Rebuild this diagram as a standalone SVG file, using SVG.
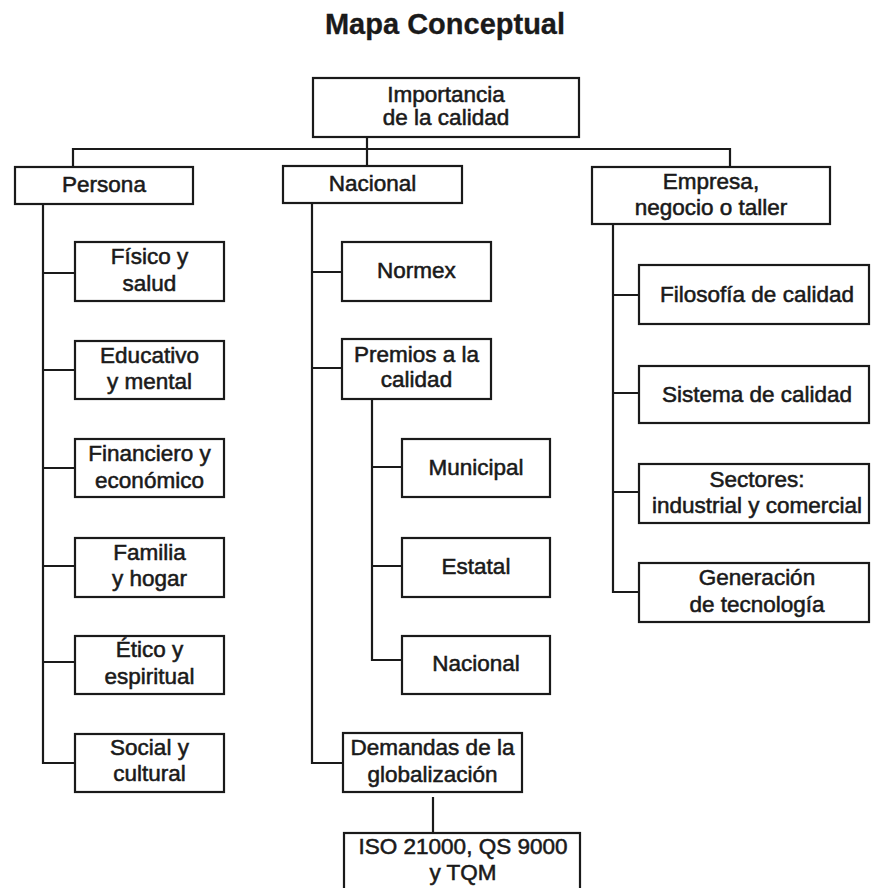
<svg xmlns="http://www.w3.org/2000/svg" width="871" height="888" viewBox="0 0 871 888">
<style>
  .box { fill: #ffffff; stroke: #1a1a1a; stroke-width: 2.2; }
  .conn { fill: none; stroke: #1a1a1a; stroke-width: 2.2; }
  text { font-family: "Liberation Sans", Arial, sans-serif; font-size: 22.5px; fill: #1a1a1a; stroke: #1a1a1a; stroke-width: 0.55; text-anchor: middle; }
  .title { font-size: 29px; font-weight: bold; stroke-width: 0.3; }
</style>
<rect width="871" height="888" fill="#ffffff"/>
<text class="title" x="445" y="34">Mapa Conceptual</text>

<g id="connectors">
  <path class="conn" d="M367,137 V166"/>
  <path class="conn" d="M73,167 V149 H730 V167"/>
  <!-- Persona -->
  <path class="conn" d="M43,204 V763 H75"/>
  <path class="conn" d="M43,273 H75 M43,370 H75 M43,468 H75 M43,566 H75 M43,662 H75"/>
  <!-- Nacional -->
  <path class="conn" d="M312,203 V763 H343"/>
  <path class="conn" d="M312,272 H342 M312,368 H342"/>
  <!-- Premios -->
  <path class="conn" d="M372,399 V660 H402"/>
  <path class="conn" d="M372,467 H402 M372,566 H402"/>
  <!-- Demandas to ISO -->
  <path class="conn" d="M433,797 V833"/>
  <!-- Empresa -->
  <path class="conn" d="M613,224 V592 H639"/>
  <path class="conn" d="M613,295 H639 M613,393 H639 M613,492 H639"/>
</g>

<g id="n-importancia">
  <rect class="box" x="313" y="78" width="266" height="59"/>
  <text x="446" y="102">Importancia</text>
  <text x="446" y="125">de la calidad</text>
</g>
<g id="n-persona">
  <rect class="box" x="15" y="167" width="178" height="37"/>
  <text x="104" y="192">Persona</text>
</g>
<g id="n-nacional">
  <rect class="box" x="283" y="166" width="179" height="37"/>
  <text x="372.5" y="191">Nacional</text>
</g>
<g id="n-empresa">
  <rect class="box" x="592" y="167" width="238" height="57"/>
  <text x="711" y="189">Empresa,</text>
  <text x="711" y="215">negocio o taller</text>
</g>

<g id="n-fisico">
  <rect class="box" x="75" y="242" width="149" height="59"/>
  <text x="149.5" y="264">Físico y</text>
  <text x="149.5" y="291">salud</text>
</g>
<g id="n-educativo">
  <rect class="box" x="75" y="341" width="149" height="58"/>
  <text x="149.5" y="363">Educativo</text>
  <text x="149.5" y="389">y mental</text>
</g>
<g id="n-financiero">
  <rect class="box" x="75" y="439" width="149" height="58"/>
  <text x="149.5" y="461">Financiero y</text>
  <text x="149.5" y="488">económico</text>
</g>
<g id="n-familia">
  <rect class="box" x="75" y="538" width="149" height="59"/>
  <text x="149.5" y="560">Familia</text>
  <text x="149.5" y="586">y hogar</text>
</g>
<g id="n-etico">
  <rect class="box" x="75" y="636" width="149" height="58"/>
  <text x="149.5" y="657">Ético y</text>
  <text x="149.5" y="684">espiritual</text>
</g>
<g id="n-social">
  <rect class="box" x="75" y="734" width="149" height="58"/>
  <text x="149.5" y="755">Social y</text>
  <text x="149.5" y="781">cultural</text>
</g>

<g id="n-normex">
  <rect class="box" x="342" y="242" width="149" height="59"/>
  <text x="416.5" y="278">Normex</text>
</g>
<g id="n-premios">
  <rect class="box" x="342" y="339" width="149" height="60"/>
  <text x="416.5" y="362">Premios a la</text>
  <text x="416.5" y="387">calidad</text>
</g>
<g id="n-municipal">
  <rect class="box" x="402" y="439" width="148" height="58"/>
  <text x="476" y="475">Municipal</text>
</g>
<g id="n-estatal">
  <rect class="box" x="402" y="538" width="148" height="59"/>
  <text x="476" y="574">Estatal</text>
</g>
<g id="n-nacional2">
  <rect class="box" x="402" y="636" width="148" height="58"/>
  <text x="476" y="671">Nacional</text>
</g>
<g id="n-demandas">
  <rect class="box" x="343" y="733" width="179" height="59"/>
  <text x="432.5" y="755">Demandas de la</text>
  <text x="432.5" y="782">globalización</text>
</g>
<g id="n-iso">
  <rect class="box" x="344" y="833" width="236" height="62"/>
  <text x="463" y="854">ISO 21000, QS 9000</text>
  <text x="463" y="880">y TQM</text>
</g>

<g id="n-filosofia">
  <rect class="box" x="639" y="265" width="230" height="59"/>
  <text x="757" y="302">Filosofía de calidad</text>
</g>
<g id="n-sistema">
  <rect class="box" x="639" y="366" width="230" height="57"/>
  <text x="757" y="402">Sistema de calidad</text>
</g>
<g id="n-sectores">
  <rect class="box" x="639" y="464" width="230" height="59"/>
  <text x="757" y="487">Sectores:</text>
  <text x="757" y="513">industrial y comercial</text>
</g>
<g id="n-generacion">
  <rect class="box" x="639" y="563" width="230" height="59"/>
  <text x="757" y="585">Generación</text>
  <text x="757" y="612">de tecnología</text>
</g>
</svg>
